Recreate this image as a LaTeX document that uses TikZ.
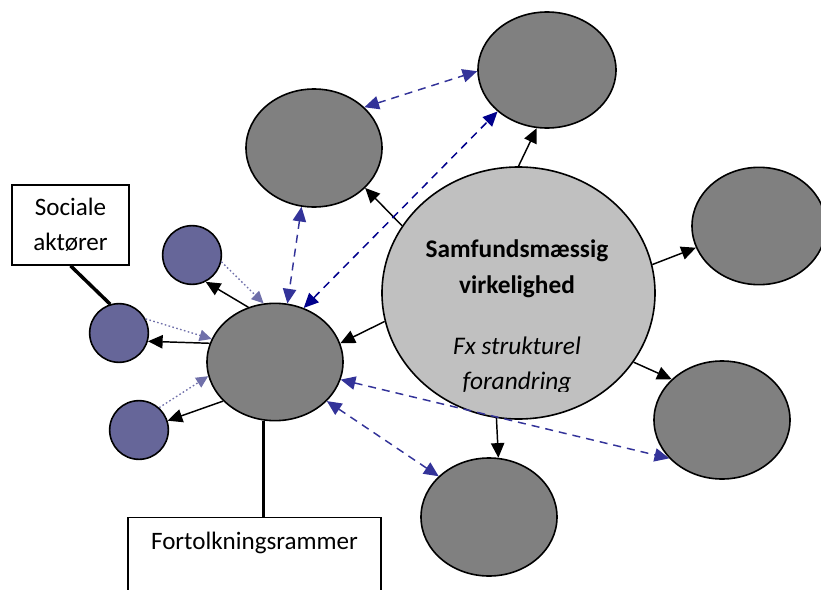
\documentclass[tikz,border=0pt]{standalone}
\usepackage{fontspec}
\setmainfont{Carlito}
\usetikzlibrary{shapes.geometric,arrows.meta}

\begin{document}
\begin{tikzpicture}[x=0.75pt,y=0.75pt,yscale=-1,xscale=1,
    blob/.style={ellipse,draw,line width=1.2pt,fill={rgb,255:red,128;green,128;blue,128},minimum width=102pt,minimum height=88.5pt,inner sep=0pt},
    core/.style={blob,fill={rgb,255:red,192;green,192;blue,192},minimum width=204.75pt,minimum height=189pt},
    actor/.style={circle,draw,line width=1.2pt,fill={rgb,255:red,102;green,102;blue,153},minimum size=44pt,inner sep=0pt},
    tag/.style={rectangle,draw,line width=1.1pt,fill=white,align=center,font=\fontsize{18.8}{26}\selectfont},
    headline/.style={anchor=base,inner sep=0pt,font=\fontsize{19}{27}\selectfont\bfseries},
    note/.style={anchor=base,inner sep=0pt,font=\fontsize{19}{27}\selectfont\itshape},
    push/.style={line width=1.1pt,-{Triangle[length=11pt,width=10pt]}},
    link/.style={draw={rgb,255:red,51;green,51;blue,153},line width=1.1pt,dash pattern=on 6pt off 4.5pt,{Triangle[length=11pt,width=10pt]}-{Triangle[length=11pt,width=10pt]}},
    navy/.style={draw={rgb,255:red,0;green,0;blue,140}},
    hint/.style={draw={rgb,255:red,112;green,112;blue,170},line width=1pt,dash pattern=on 1.2pt off 1.8pt,-{Triangle[length=9pt,width=8.5pt]}},
    tie/.style={line width=2.6pt}
  ]
\useasboundingbox (0,0) rectangle (821,589);

%Shape: Ellipse [centre]
\node[core] (C) at (518.5,293) {};
%Shape: Ellipse [outer ring]
\node[blob] (UL) at (314,148) {};
\node[blob,minimum width=103.5pt,minimum height=87pt] (UR) at (547,70) {};
\node[blob,minimum width=100.5pt,minimum height=88pt] (R) at (759,226) {};
\node[blob] (LR) at (722,420) {};
\node[blob] (B) at (489,517) {};
\node[blob,minimum height=88pt] (M) at (275,362) {};
%Shape: Circle [actors]
\node[actor] (S1) at (192,255) {};
\node[actor] (S2) at (119,333) {};
\node[actor] (S3) at (139,430) {};

%Text Node
\begin{scope}
\clip (382,160) rectangle (656,391);
\node[headline] (t1) at (517,257) {Samfundsmæssig};
\node[headline] (t2) at (517,293) {virkelighed};
\node[note] (t3) at (517,354) {Fx strukturel};
\node[note] (t4) at (517,389.5) {forandring};
\end{scope}

%Text Node
\node[tag,minimum width=87.75pt,minimum height=60pt] (soc) at (70.5,225) {Sociale\\aktører};
\node[tag,anchor=north,minimum width=189.75pt,inner ysep=6pt,text height=18pt,text depth=60pt] (frame) at (254.5,517) {Fortolkningsrammer};

%Straight Lines [id:ties]
\draw[tie] (soc.south) -- (S2.107);
\draw[tie] (M.259) -- (M.259 |- frame.north);

%Straight Lines [id:push]
\draw[push] (C.90) -- (UR.260);
\draw[push] (C.150) -- (UL.322);
\draw[push] (C.12) -- (R.199);
\draw[push] (C.329) -- (LR.141);
\draw[push] (C.260) -- (B.81);
\draw[push] (C.192) -- (M.16);
\draw[push] (M.116) -- (S1.297);
\draw[push] (M.164) -- (S2.344);
\draw[push] (M.217) -- (S3.18);

%Straight Lines [id:hint]
\draw[hint] (S1.347) -- (M.101);
\draw[hint] (S2.28) -- (M.160);
\draw[hint] (S3.48) -- (M.192);

%Straight Lines [id:link]
\draw[link] (UL.39) -- (UR.181);
\draw[link] (UL.258) -- (M.78);
\draw[link,navy] (M.62) -- (UR.220);
\draw[link] (M.345) -- (LR.216);
\draw[link] (M.323) -- (B.141);
\end{tikzpicture}
\end{document}
